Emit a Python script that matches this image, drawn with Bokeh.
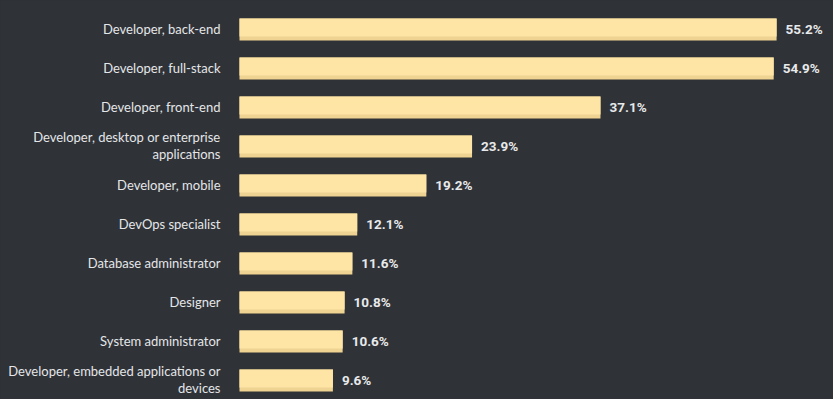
from bokeh.plotting import figure
from bokeh.models import Range1d, ColumnDataSource
from bokeh.core.properties import value
from bokeh.embed import file_html
from bokeh.resources import INLINE

roles = [
    "Developer, back-end",
    "Developer, full-stack",
    "Developer, front-end",
    "Developer, desktop or enterprise\napplications",
    "Developer, mobile",
    "DevOps specialist",
    "Database administrator",
    "Designer",
    "System administrator",
    "Developer, embedded applications or\ndevices",
]
shares = [55.2, 54.9, 37.1, 23.9, 19.2, 12.1, 11.6, 10.8, 10.6, 9.6]
value_labels = [f"{v}%" for v in shares]

BG = "#2f3237"
BAR = "#fee5a5"
BAR_DARK = "#efd392"

W, H = 833, 399
px_per_unit = 9.73
left_px = 239
row_px = 39.0
first_px = 29.0

ypos = list(range(len(roles)))
src = ColumnDataSource(dict(
    y=ypos,
    y_top=[y - 2.0 / row_px for y in ypos],
    y_txt=[y - 1.0 / row_px for y in ypos],
    v=shares,
    role=roles,
    lab=value_labels,
))

p = figure(
    width=W, height=H, output_backend="svg", toolbar_location=None,
    x_range=Range1d(-left_px / px_per_unit, (W - left_px) / px_per_unit),
    y_range=Range1d((H - first_px) / row_px, -first_px / row_px),
    min_border=0, min_border_left=0, min_border_right=0,
    min_border_top=0, min_border_bottom=0,
)
p.background_fill_color = BG
p.border_fill_color = BG
p.outline_line_color = None
p.xaxis.visible = False
p.yaxis.visible = False
p.grid.visible = False

p.hbar(y="y", left=0, right="v", height=22.0 / row_px, source=src,
       fill_color=BAR_DARK, line_color=None)
p.hbar(y="y_top", left=0, right="v", height=18.0 / row_px, source=src,
       fill_color=BAR, line_color=None)

p.text(x=0, y="y_txt", text="role", source=src, x_offset=-19,
       text_align="right", text_baseline="middle",
       text_font=value("Lato"), text_font_size="13px",
       text_color="#e4e6e8", text_line_height=1.1)

p.text(x="v", y="y_txt", text="lab", source=src, x_offset=9,
       text_align="left", text_baseline="middle",
       text_font=value("Roboto"), text_font_style="bold",
       text_font_size="13.5px", text_color="#e8e9ea")

html = file_html(p, INLINE)
html = html.replace(
    "<head>",
    "<head><style>html,body{margin:0;padding:0;background:%s;overflow:hidden;}</style>" % BG,
    1,
)
open("out.html", "w").write(html)
